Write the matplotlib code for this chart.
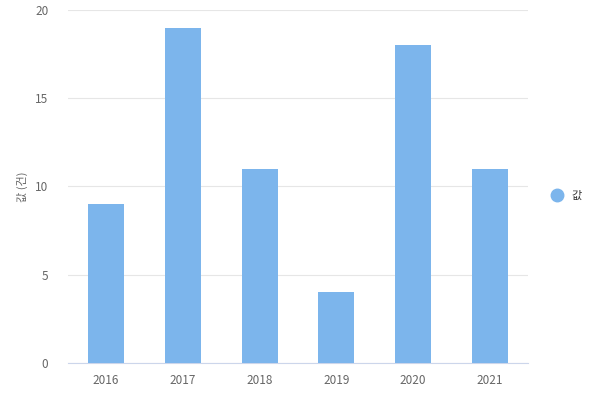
import matplotlib
matplotlib.use("Agg")
import matplotlib.pyplot as plt
from matplotlib.lines import Line2D

plt.rcParams['font.family'] = ['Noto Sans CJK KR', 'DejaVu Sans']

categories = ["2016", "2017", "2018", "2019", "2020", "2021"]
values = [9, 19, 11, 4, 18, 11]
y_ticks = [0, 5, 10, 15, 20]
series_name = "값"
y_label = "값 (건)"

fig = plt.figure(figsize=(6, 4), dpi=100)
ax = fig.add_axes([0.113, 0.0925, 0.767, 0.8825])
x = range(len(categories))
ax.bar(x, values, width=0.47, color="#7cb5ec", zorder=3)
ax.set_xlim(-0.5, len(categories) - 0.5)
ax.set_ylim(0, 20)
ax.set_yticks(y_ticks)
ax.set_xticks(list(x))
ax.set_xticklabels(categories)
ax.grid(axis="y", color="#e6e6e6", linewidth=0.8, zorder=0)
for s in ["top", "right", "left"]:
    ax.spines[s].set_visible(False)
ax.spines["bottom"].set_color("#ccd6eb")
ax.tick_params(axis="both", length=0, colors="#666666", labelsize=8.5)
ax.tick_params(axis="x", pad=8)
ax.tick_params(axis="y", pad=14)
ax.set_ylabel(y_label, color="#666666", fontsize=8, labelpad=5)

handle = Line2D([], [], marker="o", linestyle="none", markersize=9,
                markerfacecolor="#7cb5ec", markeredgecolor="#7cb5ec")
fig.legend([handle], [series_name], loc="center left", bbox_to_anchor=(0.893, 0.51),
           frameon=False, fontsize=8, handletextpad=0.3, labelcolor="#333333")

fig.savefig("out.png", dpi=100)
